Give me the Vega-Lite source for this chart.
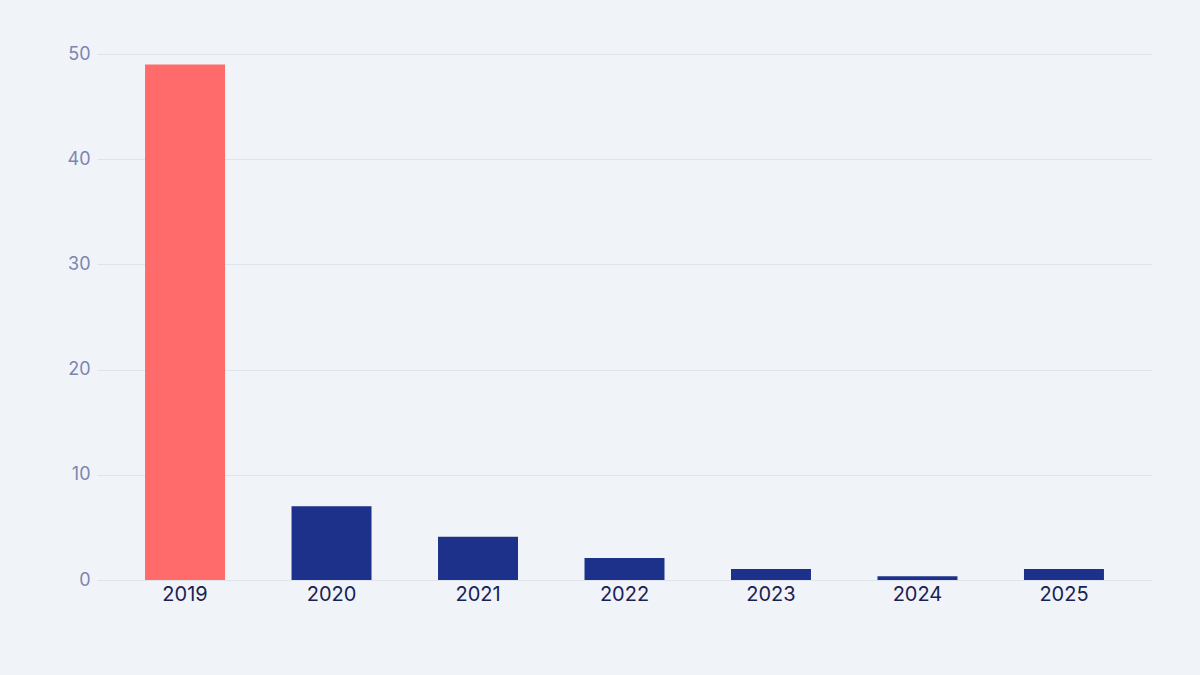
{
  "$schema": "https://vega.github.io/schema/vega-lite/v6.json",
  "autosize": "none",
  "width": 1055,
  "height": 526,
  "padding": {"left": 97, "top": 54, "right": 48, "bottom": 95},
  "background": "#f0f4f8",
  "data": {
    "values": [
      {"year": "2019", "value": 49, "highlight": "yes"},
      {"year": "2020", "value": 7, "highlight": "no"},
      {"year": "2021", "value": 4.1, "highlight": "no"},
      {"year": "2022", "value": 2.1, "highlight": "no"},
      {"year": "2023", "value": 1.05, "highlight": "no"},
      {"year": "2024", "value": 0.35, "highlight": "no"},
      {"year": "2025", "value": 1.05, "highlight": "no"}
    ]
  },
  "config": {
    "view": {"stroke": null},
    "font": "Inter"
  },
  "mark": {"type": "bar"},
  "encoding": {
    "x": {
      "field": "year",
      "type": "ordinal",
      "scale": {"paddingInner": 0.454, "paddingOuter": 0.328},
      "axis": {
        "title": null,
        "labelAngle": 0,
        "domain": false,
        "ticks": false,
        "labelPadding": 4,
        "labelFontSize": 20,
        "labelColor": "#1a2155",
        "labelFont": "Inter"
      }
    },
    "y": {
      "field": "value",
      "type": "quantitative",
      "scale": {"domain": [0, 50]},
      "axis": {
        "title": null,
        "values": [0, 10, 20, 30, 40, 50],
        "domain": false,
        "ticks": false,
        "labelPadding": 7,
        "labelFontSize": 18,
        "labelColor": "#7d84b2",
        "gridColor": "#dfe4ec",
        "gridWidth": 1
      }
    },
    "color": {
      "field": "highlight",
      "type": "nominal",
      "scale": {"domain": ["yes", "no"], "range": ["#ff6b6b", "#1e318a"]},
      "legend": null
    }
  }
}
